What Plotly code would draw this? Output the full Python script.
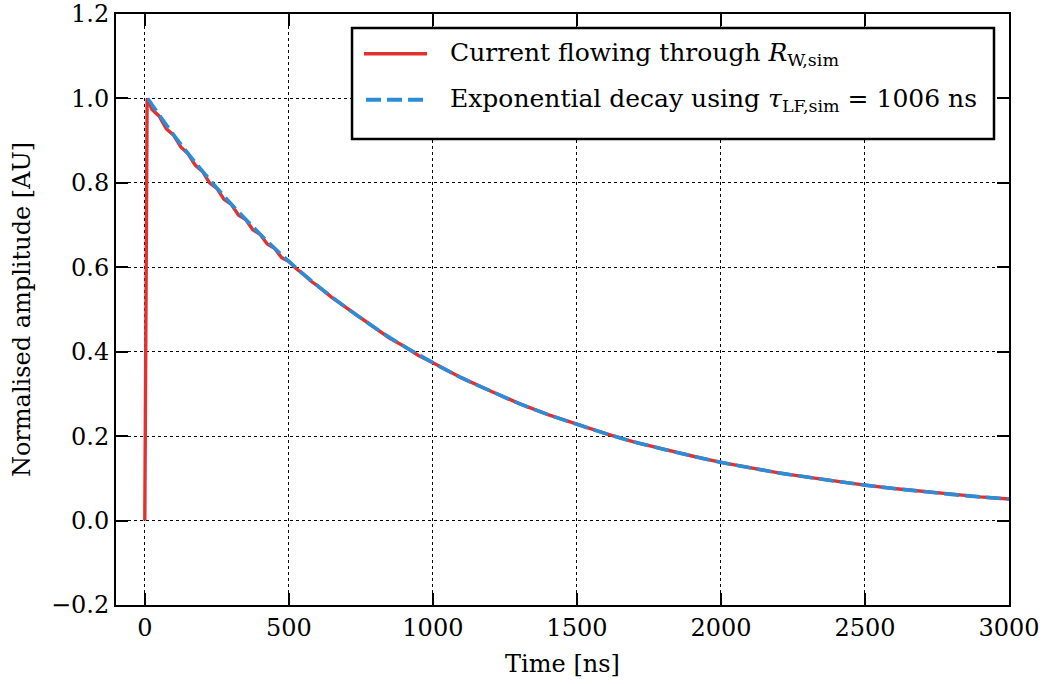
import plotly.graph_objects as go

# Simulated current through R_W (normalised)
t_current = [0, 8, 25, 50, 75, 100, 125, 150, 175, 200, 225, 250, 275, 300, 325, 350, 375,
             400, 425, 450, 475, 500, 525, 550, 575, 600, 650, 700, 750, 800, 850, 900, 950,
             1000, 1100, 1200, 1300, 1400, 1500, 1600, 1700, 1800, 1900, 2000, 2100, 2200,
             2300, 2400, 2500, 2600, 2700, 2800, 2900, 3000]
i_current = [0.0, 1.0, 0.974, 0.958, 0.928, 0.913, 0.885, 0.869, 0.842, 0.827, 0.800, 0.787,
             0.761, 0.749, 0.724, 0.713, 0.689, 0.678, 0.655, 0.645, 0.623, 0.614, 0.597,
             0.584, 0.568, 0.556, 0.528, 0.504, 0.478, 0.456, 0.432, 0.413, 0.391, 0.374,
             0.338, 0.307, 0.277, 0.251, 0.228, 0.206, 0.186, 0.169, 0.153, 0.138, 0.125,
             0.113, 0.103, 0.093, 0.084, 0.076, 0.069, 0.062, 0.056, 0.051]

# Exponential decay fit, tau_LF,sim = 1006 ns
t_fit = [10, 100, 200, 300, 400, 500, 600, 700, 800, 900, 1000, 1100, 1200, 1300, 1400,
         1500, 1600, 1700, 1800, 1900, 2000, 2100, 2200, 2300, 2400, 2500, 2600, 2700,
         2800, 2900, 3000]
y_fit = [1.0, 0.914, 0.828, 0.750, 0.679, 0.614, 0.556, 0.504, 0.456, 0.413, 0.374, 0.338,
         0.307, 0.277, 0.251, 0.228, 0.206, 0.186, 0.169, 0.153, 0.138, 0.125, 0.113, 0.103,
         0.093, 0.084, 0.076, 0.069, 0.062, 0.056, 0.051]

x_ticks = [0, 500, 1000, 1500, 2000, 2500, 3000]
y_ticks = [-0.2, 0.0, 0.2, 0.4, 0.6, 0.8, 1.0, 1.2]

legend_labels = ["Current flowing through <i>R</i><sub>W,sim</sub>",
                 "Exponential decay using <i>τ</i><sub>LF,sim</sub> = 1006 ns"]

RED = "#e2312f"
BLUE = "#2b8cd8"
FONT = "DejaVu Serif"
FS = 24
FS_LEG = 25

fig = go.Figure()
fig.add_trace(go.Scatter(x=t_current, y=i_current, mode="lines",
                         line=dict(color=RED, width=3.4), showlegend=False,
                         name="Current"))
fig.add_trace(go.Scatter(x=t_fit, y=y_fit, mode="lines", line_shape="spline",
                         line=dict(color=BLUE, width=3.6, dash="15px,6px"),
                         showlegend=False, name="Exponential decay"))

axis_common = dict(
    showline=True, linewidth=2, linecolor="black", mirror="ticks",
    ticks="inside", ticklen=12, tickwidth=1.5, tickcolor="black",
    showgrid=True, gridcolor="black", griddash="dot", gridwidth=1,
    zeroline=False, automargin=False, ticklabeloverflow="allow",
    tickfont=dict(family=FONT, size=FS, color="black"),
)

fig.update_xaxes(range=[-100, 3000], tickvals=x_ticks,
                 title=dict(text="Time [ns]", font=dict(family=FONT, size=FS, color="black"),
                            standoff=14),
                 **axis_common)
fig.update_yaxes(range=[-0.2, 1.2], tickvals=y_ticks, tickformat=".1f",
                 title=dict(text="Normalised amplitude [AU]",
                            font=dict(family=FONT, size=FS, color="black"), standoff=14),
                 **axis_common)

# Legend box drawn manually
shapes = [
    dict(type="rect", xref="paper", yref="paper", x0=0.2643, x1=0.9832, y0=0.7885, y1=0.9763,
         line=dict(color="black", width=2.5), fillcolor="white", layer="above"),
    dict(type="line", xref="paper", yref="paper", x0=0.2777, x1=0.3483, y0=0.9328, y1=0.9328,
         line=dict(color=RED, width=3.6), layer="above"),
    dict(type="line", xref="paper", yref="paper", x0=0.2800, x1=0.3440, y0=0.855, y1=0.855,
         line=dict(color=BLUE, width=4, dash="15px,6px"), layer="above"),
]
annotations = [
    dict(xref="paper", yref="paper", x=0.3718, y=0.9328, xanchor="left", yanchor="middle",
         text=legend_labels[0], showarrow=False,
         font=dict(family=FONT, size=FS_LEG, color="black")),
    dict(xref="paper", yref="paper", x=0.3718, y=0.855, xanchor="left", yanchor="middle",
         text=legend_labels[1], showarrow=False,
         font=dict(family=FONT, size=FS_LEG, color="black")),
]

fig.update_layout(
    width=1046, height=684,
    margin=dict(l=116, r=37, t=14, b=79, autoexpand=False),
    paper_bgcolor="white", plot_bgcolor="white",
    shapes=shapes, annotations=annotations,
    font=dict(family=FONT, size=FS, color="black"),
)

fig.write_html("out.html")
